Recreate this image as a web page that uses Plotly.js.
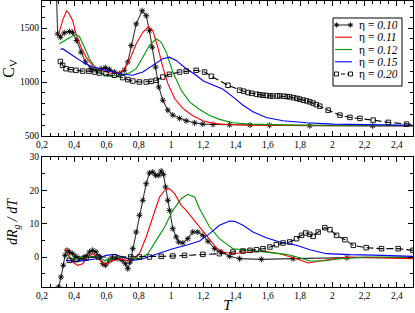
<!DOCTYPE html>
<html>
<head>
<meta charset="utf-8">
<script src="https://cdn.plot.ly/plotly-3.0.1.min.js"></script>
<style>html,body{margin:0;padding:0;background:#fff;}#chart{width:415px;height:313px;}</style>
</head>
<body>
<div id="chart"></div>
<script>
// ---------- Top panel: C_V vs T ----------
var cvT010 = [0.288,0.297,0.314,0.338,0.37,0.39,0.415,0.442,0.469,0.504,0.535,0.566,0.593,0.618,0.649,0.68,0.71,0.732,0.753,0.784,0.821,0.846,0.866,0.883,0.904,0.924,0.949,0.98,1.011,1.053,1.094,1.146,1.197,1.26,1.363,1.49,1.61,1.86,2.25,2.53];
var cv010  = [1900,1446,1414,1455,1467,1460,1384,1276,1184,1123,1108,1123,1133,1117,1092,1077,1108,1184,1338,1538,1660,1614,1476,1322,1138,954,831,739,693,663,641,622,610,607,604,601,599,595,594,594];

var cvT011 = [0.303,0.33,0.353,0.37,0.39,0.411,0.442,0.473,0.514,0.566,0.618,0.66,0.70,0.742,0.784,0.825,0.86,0.887,0.918,0.949,0.98,1.022,1.073,1.135,1.197,1.26,1.35,1.5,1.8,2.1,2.5];
var cv011  = [1446,1580,1660,1630,1568,1446,1322,1230,1154,1108,1083,1078,1101,1200,1354,1460,1513,1476,1322,1138,985,847,755,687,641,617,606,600,597,596,595];

var cvT012 = [0.307,0.338,0.37,0.407,0.432,0.463,0.494,0.535,0.576,0.618,0.68,0.742,0.784,0.825,0.866,0.908,0.939,0.97,1.011,1.063,1.115,1.177,1.239,1.30,1.384,1.49,1.7,2.0,2.5];
var cv012  = [1354,1384,1409,1439,1421,1322,1215,1123,1071,1052,1062,1083,1123,1230,1338,1400,1368,1276,1092,923,816,745,690,654,622,610,603,600,597];

var cvT015 = [0.314,0.328,0.39,0.452,0.514,0.576,0.639,0.70,0.763,0.825,0.887,0.949,0.99,1.032,1.094,1.156,1.2,1.26,1.32,1.384,1.446,1.508,1.59,1.694,1.84,2.005,2.21,2.5];
var cv015  = [1301,1308,1246,1184,1138,1114,1092,1071,1062,1092,1154,1215,1230,1200,1123,1062,1010,975,935,862,785,724,672,641,622,610,603,598];

var cvT020 = [0.314,0.328,0.349,0.38,0.411,0.452,0.49,0.525,0.556,0.597,0.649,0.70,0.732,0.763,0.804,0.846,0.877,0.908,0.949,0.99,1.053,1.094,1.156,1.208,1.25,1.353,1.425,1.45,1.477,1.50,1.53,1.55,1.57,1.59,1.613,1.63,1.66,1.674,1.70,1.72,1.736,1.76,1.78,1.798,1.82,1.84,1.86,1.88,1.90,1.922,1.974,2.047,2.109,2.171,2.253,2.347,2.46,2.53];
var cv020  = [1190,1154,1123,1114,1108,1101,1101,1092,1083,1077,1062,1041,1022,1009,1000,1000,1006,1016,1046,1071,1092,1101,1108,1092,1053,970,924,915,902,895,887,882,878,875,871,870,871,871,868,865,862,855,848,841,832,825,816,805,790,776,739,693,672,663,647,626,610,604];

// ---------- Bottom panel: dRg/dT vs T ----------
var rT010 = [0.298,0.303,0.318,0.332,0.343,0.355,0.37,0.39,0.411,0.432,0.452,0.473,0.494,0.514,0.535,0.556,0.576,0.593,0.614,0.639,0.67,0.697,0.717,0.732,0.747,0.763,0.784,0.804,0.825,0.846,0.866,0.887,0.904,0.924,0.939,0.953,0.966,0.98,0.99,1.011,1.032,1.047,1.073,1.104,1.135,1.166,1.197,1.229,1.27,1.31,1.363,1.425,1.56,1.757,2.09,2.53];
var r010  = [-10.5,-9,-6,-2.5,0.5,2,1.5,1,0.2,-0.5,-0.3,0.2,1.5,2,1.5,0,-2,-2.5,-1,-0.5,-0.5,-1,-2,-3.5,-1.5,2.5,7.5,12.5,17,22,25.2,25.5,24.5,24.5,25.8,24.8,21,17,14,8.5,6,4.5,4.2,5.5,7.5,7.5,6.5,4.7,2.5,1.5,0.2,-0.5,-0.7,-0.5,-0.2,-0.2];

var rT011 = [0.349,0.37,0.39,0.421,0.452,0.483,0.514,0.545,0.576,0.607,0.639,0.68,0.722,0.763,0.804,0.846,0.887,0.929,0.964,0.99,1.022,1.063,1.094,1.135,1.197,1.239,1.28,1.32,1.384,1.49,1.57,1.674,1.778,1.85,1.922,2.005,2.109,2.315,2.5];
var r011  = [2.5,0,-1.5,-2.5,-2,0,1,0,-2,-2.2,-1,-0.5,-1,-0.8,1,6,12,18,20.2,20.5,19,15.5,14,11.5,7.5,5,2.8,1.5,1,1.5,1.8,1,-0.5,-1.8,-1.2,-0.5,0,-0.3,-0.5];

var rT012 = [0.349,0.38,0.411,0.442,0.473,0.514,0.556,0.587,0.618,0.66,0.70,0.742,0.804,0.856,0.908,0.96,1.011,1.063,1.104,1.146,1.177,1.239,1.30,1.384,1.49,1.59,1.715,1.798,1.86,1.943,2.047,2.21,2.5];
var r012  = [1,-0.5,-0.5,0,-0.2,0.2,0,-1,-1,0,0,-0.5,-0.5,1,5,9,14,17.5,18.8,18,14.5,9,5.5,2.5,2,1.5,0.8,-0.2,-1.2,-1.2,-0.5,0,0];

var rT015 = [0.349,0.411,0.473,0.535,0.597,0.649,0.70,0.763,0.825,0.887,0.949,1.011,1.094,1.177,1.239,1.30,1.363,1.394,1.446,1.508,1.59,1.674,1.778,1.86,1.964,2.109,2.315,2.5];
var r015  = [-1,-1.3,-1,-0.5,0.5,0.8,0,-1,-0.5,0.5,1.5,2.5,3.5,4.8,7,9.5,10.8,10.7,9.5,7.5,5.8,4.5,3.5,2.2,1,0.7,0.5,0.2];

var rT020 = [0.37,0.411,0.473,0.55,0.65,0.75,0.804,0.866,0.939,1.011,1.084,1.197,1.30,1.384,1.446,1.49,1.53,1.57,1.613,1.653,1.694,1.736,1.778,1.809,1.835,1.86,1.881,1.912,1.953,1.985,2.026,2.078,2.13,2.21,2.305,2.408,2.5];
var r020  = [-1,-0.8,-0.2,0,0,0,0,0,0.2,0.3,0.5,0.8,1,1.5,1.8,2,2.2,2.5,3,3.7,4.2,4.5,5.5,6.5,7.2,6.8,6.2,7.5,8.8,8.2,6.5,5.2,3.5,2.8,2.5,2.5,2];

var names = ['\u03b7 = <i>0.10</i>','\u03b7 = <i>0.11</i>','\u03b7 = <i>0.12</i>','\u03b7 = <i>0.15</i>','\u03b7 = <i>0.20</i>'];
var colors = ['#333333','#ff0000','#009600','#0000ff','#000000'];
var dashes = ['solid','solid','solid','solid','7px,3px'];

function mk(x, y, i, xa, ya) {
  var t = {x:x, y:y, type:'scatter', name:names[i], xaxis:xa, yaxis:ya, showlegend:false,
           line:{color:colors[i], width:1.1, dash:dashes[i]}, mode:'lines'};
  if (i === 0) {
    t.mode = 'lines+markers';
    t.marker = {symbol:'asterisk-open', size:5, color:'#000', line:{color:'#000', width:0.9}};
  }
  if (i === 4) {
    t.mode = 'lines+markers';
    t.marker = {symbol:'square-open', size:4.5, color:'#000', line:{color:'#000', width:0.9}};
  }
  return t;
}

var data = [
  mk(cvT010, cv010, 0, 'x', 'y'),
  mk(cvT011, cv011, 1, 'x', 'y'),
  mk(cvT012, cv012, 2, 'x', 'y'),
  mk(cvT015, cv015, 3, 'x', 'y'),
  mk(cvT020, cv020, 4, 'x', 'y'),
  mk(rT010, r010, 0, 'x2', 'y2'),
  mk(rT011, r011, 1, 'x2', 'y2'),
  mk(rT012, r012, 2, 'x2', 'y2'),
  mk(rT015, r015, 3, 'x2', 'y2'),
  mk(rT020, r020, 4, 'x2', 'y2')
];

function ax(extra) {
  var a = {showline:true, linecolor:'#000', linewidth:1, mirror:'allticks', ticks:'inside', ticklen:5,
           tickcolor:'#000', tickwidth:1, showgrid:false, zeroline:false,
           tickfont:{size:9.5, color:'#000'}};
  for (var k in extra) a[k] = extra[k];
  return a;
}

// ---------- compact boxed legend (drawn in paper space) ----------
var W = 415, H = 313, ML = 42, MR = 2, MT = 1, MB = 26;
function px(x) { return (x - ML) / (W - ML - MR); }
function py(y) { return (H - MB - y) / (H - MT - MB); }
var shapes = [], annots = [];
shapes.push({type:'rect', xref:'paper', yref:'paper', x0:px(333), x1:px(402), y0:py(18), y1:py(86),
             line:{color:'#000', width:1}, fillcolor:'#fff', layer:'above'});
var rowY = [25, 37.2, 49.5, 61.8, 74];
for (var i = 0; i < 5; i++) {
  var yc = rowY[i];
  shapes.push({type:'line', xref:'paper', yref:'paper', x0:px(335), x1:px(352), y0:py(yc), y1:py(yc),
               line:{color:colors[i], width:1.1, dash:(i === 4 ? '4px,2px' : 'solid')}, layer:'above'});
  var ends = [336.5, 350.5];
  for (var e = 0; e < 2; e++) {
    var cx = ends[e];
    if (i === 0) {
      var r = 2.6, s = 1.85;
      [[0,-r,0,r],[-r,0,r,0],[-s,-s,s,s],[s,-s,-s,s]].forEach(function(q){
        shapes.push({type:'line', xref:'paper', yref:'paper', x0:px(cx+q[0]), x1:px(cx+q[2]),
                     y0:py(yc+q[1]), y1:py(yc+q[3]), line:{color:'#000', width:0.9}, layer:'above'});
      });
    }
    if (i === 4) {
      shapes.push({type:'rect', xref:'paper', yref:'paper', x0:px(cx-2), x1:px(cx+2), y0:py(yc-2), y1:py(yc+2),
                   line:{color:'#000', width:0.9}, fillcolor:'#fff', layer:'above'});
    }
  }
  annots.push({xref:'paper', yref:'paper', x:px(358), y:py(yc), xanchor:'left', yanchor:'middle',
               text:names[i], showarrow:false, font:{size:11.5, color:'#000'},
               height:12, borderpad:0, valign:'middle'});
}

var layout = {
  width:W, height:H,
  margin:{l:ML, r:MR, t:MT, b:MB},
  paper_bgcolor:'#fff', plot_bgcolor:'#fff',
  separators:',.',
  font:{family:'"Liberation Serif", "Times New Roman", serif', size:10, color:'#000'},
  xaxis: ax({anchor:'y', domain:[0,1], range:[0.2,2.5], tick0:0.2, dtick:0.2,
             minor:{dtick:0.05, ticks:'inside', ticklen:3, tickcolor:'#000'}}),
  yaxis: ax({anchor:'x', domain:[0.528,1], range:[500,1750], tick0:500, dtick:500,
             minor:{dtick:100, ticks:'inside', ticklen:3, tickcolor:'#000'},
             title:{text:'C<sub>V</sub>', font:{size:16}, standoff:8}}),
  xaxis2: ax({anchor:'y2', domain:[0,1], range:[0.2,2.5], tick0:0.2, dtick:0.2,
             minor:{dtick:0.05, ticks:'inside', ticklen:3, tickcolor:'#000'},
             title:{text:'<i>T</i>', font:{size:15}, standoff:1}}),
  yaxis2: ax({anchor:'x2', domain:[0,0.4545], range:[-9,30], tick0:0, dtick:10,
             minor:{dtick:5, ticks:'inside', ticklen:3, tickcolor:'#000'},
             title:{text:'<i>dR<sub>g</sub> / dT</i>', font:{size:14}, standoff:8}}),
  showlegend:false,
  shapes:shapes,
  annotations:annots
};

Plotly.newPlot('chart', data, layout, {displayModeBar:false, staticPlot:true});
</script>
</body>
</html>
